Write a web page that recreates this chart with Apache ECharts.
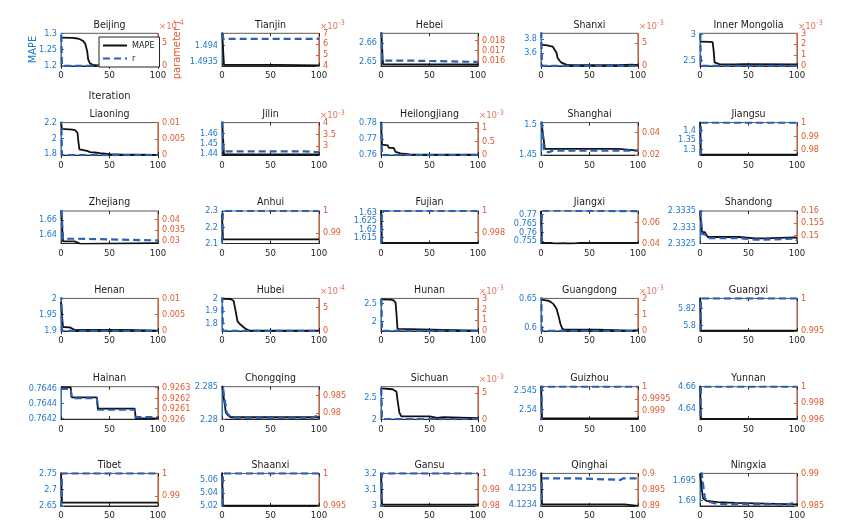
<!DOCTYPE html>
<html>
<head>
<meta charset="utf-8">
<script src="https://cdn.jsdelivr.net/npm/echarts@6/dist/echarts.min.js"></script>
<style>
  html, body { margin: 0; padding: 0; background: #fff; }
  #chart { width: 866px; height: 530px; }
</style>
</head>
<body>
<div id="chart"></div>
<script>
// provinces in subplot order (row by row)
const provinces = ['Beijing', 'Tianjin', 'Hebei', 'Shanxi', 'Inner Mongolia',
    'Liaoning', 'Jilin', 'Heilongjiang', 'Shanghai', 'Jiangsu',
    'Zhejiang', 'Anhui', 'Fujian', 'Jiangxi', 'Shandong',
    'Henan', 'Hubei', 'Hunan', 'Guangdong', 'Guangxi',
    'Hainan', 'Chongqing', 'Sichuan', 'Guizhou', 'Yunnan',
    'Tibet', 'Shaanxi', 'Gansu', 'Qinghai', 'Ningxia'];

const iterTicks = [0, 50, 100];

// left axis (MAPE) range and tick labels
const leftRange = [[1.2, 1.3], [1.49337, 1.49437], [2.6477, 2.6653], [3.414, 3.879], [2.394, 3.019],
    [1.787, 2.2], [1.439, 1.4707], [0.76, 0.78], [1.45, 1.504], [1.27, 1.44],
    [1.628, 1.672], [2.1, 2.3], [1.6115, 1.631], [0.7536, 0.772], [2.3325, 2.3335],
    [1.9, 2.0], [1.739, 2.0], [1.745, 2.636], [0.5935, 0.65], [5.7938, 5.8315],
    [0.76419, 0.76462], [2.28, 2.285], [2.0, 2.76], [2.5375, 2.5459], [4.6305, 4.66],
    [2.65, 2.75], [5.02, 5.07], [3.0, 3.2], [4.12339, 4.1236], [1.6885, 1.697]];
const leftTicks = [[1.2, 1.25, 1.3], [1.4935, 1.494], [2.65, 2.66], [3.6, 3.8], [2.5, 3],
    [1.8, 2, 2.2], [1.44, 1.45, 1.46], [0.76, 0.77, 0.78], [1.45, 1.5], [1.3, 1.35, 1.4],
    [1.64, 1.66], [2.1, 2.2, 2.3], [1.615, 1.62, 1.625, 1.63], [0.755, 0.76, 0.765, 0.77], [2.3325, 2.333, 2.3335],
    [1.9, 1.95, 2], [1.8, 1.9, 2], [2, 2.5], [0.6, 0.65], [5.8, 5.82],
    [0.7642, 0.7644, 0.7646], [2.28, 2.285], [2, 2.5], [2.54, 2.545], [4.64, 4.66],
    [2.65, 2.7, 2.75], [5.02, 5.04, 5.06], [3, 3.1, 3.2], [4.1234, 4.1235, 4.1236], [1.69, 1.695]];

// right axis (parameter r) range, tick labels and x10^n exponent
const rightRange = [[0, 7e-4], [4e-3, 7e-3], [0.01552, 0.0187], [0, 7.1e-3], [0, 3e-3],
    [0, 0.01], [2.62e-3, 4e-3], [0, 1.2e-3], [0.02, 0.049], [0.9763, 1],
    [0.0285, 0.0442], [0.9853, 1], [0.997, 1], [0.04, 0.0708], [0.1466, 0.16],
    [0, 0.01], [0, 7e-4], [0, 3e-3], [0, 2e-3], [0.995, 1],
    [0.926, 0.92631], [0.9782, 0.9875], [0, 6.2e-3], [0.99867, 1], [0.996, 1],
    [0.9857, 1], [0.995, 1], [0.98, 1], [0.89, 0.9], [0.985, 0.99]];
const rightTicks = [[0, 5e-4], [4e-3, 5e-3, 6e-3, 7e-3], [0.016, 0.017, 0.018], [0, 5e-3], [0, 1e-3, 2e-3, 3e-3],
    [0, 0.005, 0.01], [3e-3, 3.5e-3, 4e-3], [0, 0.5e-3, 1e-3], [0.02, 0.04], [0.98, 0.99, 1],
    [0.03, 0.035, 0.04], [0.99, 1], [0.998, 1], [0.04, 0.06], [0.15, 0.155, 0.16],
    [0, 0.005, 0.01], [0, 5e-4], [0, 1e-3, 2e-3, 3e-3], [0, 1e-3, 2e-3], [0.995, 1],
    [0.926, 0.9261, 0.9262, 0.9263], [0.98, 0.985], [0, 5e-3], [0.999, 0.9995, 1], [0.996, 0.998, 1],
    [0.99, 1], [0.995, 1], [0.98, 0.99, 1], [0.89, 0.895, 0.9], [0.985, 0.99]];
const rightExp = [-4, -3, 0, -3, -3,
    0, -3, -3, 0, 0,
    0, 0, 0, 0, 0,
    0, -4, -3, -3, 0,
    0, 0, -3, 0, 0,
    0, 0, 0, 0, 0];

// MAPE and r over iterations, [iteration, value]
const mapeBeijing = [[0, 1.287], [12, 1.286], [17, 1.284], [20, 1.281], [23, 1.276], [25, 1.268], [27, 1.245], [28, 1.22], [30, 1.207], [33, 1.203], [38, 1.2015], [100, 1.2015]];
const rBeijing = [[0, 9e-4], [1, 0], [100, 0]];
const mapeTianjin = [[0, 1.4945], [2, 1.4934], [58, 1.4934], [60, 1.49338], [100, 1.49338]];
const rTianjin = [[0, 0.009], [1, 0.00648], [100, 0.00648]];
const mapeHebei = [[0, 2.67], [2, 2.6486], [100, 2.6484]];
const rHebei = [[0, 0.02], [1, 0.01602], [33, 0.01602], [35, 0.0159], [100, 0.0159]];
const mapeShanxi = [[0, 3.716], [5, 3.71], [12, 3.69], [14, 3.68], [16, 3.6], [17, 3.53], [19, 3.49], [21, 3.46], [26, 3.43], [30, 3.425], [80, 3.425], [81, 3.432], [94, 3.432], [96, 3.425], [100, 3.425]];
const rShanxi = [[0, 0.01], [1, 0], [100, 0]];
const mapeInnerMongolia = [[0, 2.86], [10, 2.855], [13, 2.85], [14, 2.7], [15, 2.46], [17, 2.43], [20, 2.425], [35, 2.42], [36, 2.425], [45, 2.425], [46, 2.42], [100, 2.42]];
const rInnerMongolia = [[0, 0.004], [1, 0], [100, 0]];
const mapeLiaoning = [[0, 2.2], [1, 2.12], [3, 2.113], [12, 2.11], [15, 2.1], [17, 2.07], [18, 1.95], [19, 1.86], [20, 1.845], [27, 1.84], [30, 1.825], [35, 1.82], [40, 1.812], [50, 1.8], [60, 1.795], [100, 1.79]];
const rLiaoning = [[0, 0.015], [1, 0], [100, 0]];
const mapeJilin = [[0, 1.475], [2, 1.4398], [100, 1.4396]];
const rJilin = [[0, 0.005], [1, 0.00278], [85, 0.00278], [86, 0.00275], [100, 0.00275]];
const mapeHeilongjiang = [[0, 0.782], [1, 0.7665], [7, 0.766], [8, 0.7645], [13, 0.7645], [15, 0.762], [20, 0.761], [30, 0.7605], [100, 0.7603]];
const rHeilongjiang = [[0, 0.002], [1, 0], [100, 0]];
const mapeShanghai = [[0, 1.51], [4, 1.4602], [80, 1.4602], [82, 1.4575], [100, 1.4575]];
const rShanghai = [[0, 0.06], [3, 0.0235], [8, 0.0225], [12, 0.024], [100, 0.024]];
const mapeJiangsu = [[0, 1.46], [1, 1.272], [100, 1.272]];
const rJiangsu = [[0, 0.96], [1, 1], [100, 1]];
const mapeZhejiang = [[0, 1.68], [2, 1.631], [14, 1.6308], [17, 1.6292], [19, 1.6282], [20, 1.6275], [21, 1.6286], [100, 1.6286]];
const rZhejiang = [[0, 0.05], [2, 0.0308], [16, 0.0308], [18, 0.03], [100, 0.03]];
const mapeAnhui = [[0, 2.28], [1, 2.125], [100, 2.125]];
const rAnhui = [[0, 0.986], [1, 1], [100, 1]];
const mapeFujian = [[0, 1.632], [1, 1.6118], [100, 1.6118]];
const rFujian = [[0, 0.996], [1, 1], [100, 1]];
const mapeJiangxi = [[0, 0.772], [1, 0.7539], [10, 0.7539], [13, 0.7537], [20, 0.7536], [23, 0.7538], [26, 0.7536], [35, 0.7537], [40, 0.7539], [100, 0.7539]];
const rJiangxi = [[0, 0.03], [1, 0.0712], [5, 0.0712], [6, 0.0706], [100, 0.0706]];
const mapeShandong = [[0, 2.3335], [2, 2.33285], [5, 2.33285], [8, 2.3327], [40, 2.3327], [41, 2.33266], [57, 2.33266], [59, 2.3327], [62, 2.33266], [66, 2.33266], [68, 2.33269], [98, 2.33269], [100, 2.33265]];
const rShandong = [[0, 0.165], [2, 0.1505], [5, 0.1505], [8, 0.1488], [40, 0.1488], [42, 0.1482], [57, 0.1482], [59, 0.1487], [62, 0.1482], [66, 0.1482], [68, 0.1486], [98, 0.1486], [100, 0.1478]];
const mapeHenan = [[0, 1.99], [2, 1.912], [9, 1.911], [11, 1.909], [15, 1.902], [17, 1.9], [20, 1.903], [68, 1.903], [70, 1.9005], [100, 1.9005]];
const rHenan = [[0, 0.015], [1, 0], [100, 0]];
const mapeHubei = [[0, 1.997], [9, 1.995], [12, 1.98], [14, 1.9], [16, 1.815], [19, 1.79], [22, 1.77], [25, 1.753], [28, 1.743], [100, 1.741]];
const rHubei = [[0, 0.001], [1, 0], [100, 0]];
const mapeHunan = [[0, 2.61], [10, 2.6], [13, 2.58], [15, 2.52], [16, 2.2], [17, 1.8], [19, 1.765], [100, 1.755]];
const rHunan = [[0, 0.005], [1, 0], [100, 0]];
const mapeGuangdong = [[0, 0.648], [7, 0.646], [10, 0.644], [13, 0.64], [16, 0.632], [18, 0.62], [20, 0.606], [22, 0.597], [25, 0.5955], [58, 0.5955], [60, 0.5938], [93, 0.5938], [95, 0.595], [100, 0.595]];
const rGuangdong = [[0, 0.003], [1, 0], [100, 0]];
const mapeGuangxi = [[0, 5.84], [1, 5.7942], [100, 5.7942]];
const rGuangxi = [[0, 0.99], [1, 1], [100, 1]];
const mapeHainan = [[0, 0.76461], [10, 0.76461], [11, 0.76448], [37, 0.76448], [38, 0.76433], [76, 0.76433], [77, 0.7642], [100, 0.7642]];
const rHainan = [[0, 0.92629], [10, 0.92629], [11, 0.9262], [37, 0.9262], [38, 0.92609], [76, 0.92609], [77, 0.92602], [100, 0.92602]];
const mapeChongqing = [[0, 2.2855], [2, 2.2831], [4, 2.281], [6, 2.2806], [9, 2.2803], [100, 2.2803]];
const rChongqing = [[0, 0.99], [2, 0.985], [5, 0.98], [9, 0.9788], [15, 0.9786], [93, 0.9786], [96, 0.979], [100, 0.979]];
const mapeSichuan = [[0, 2.72], [12, 2.7], [16, 2.64], [17, 2.45], [19, 2.15], [21, 2.065], [50, 2.065], [52, 2.024], [58, 2.03], [60, 2.05], [64, 2.05], [66, 2.024], [100, 2.024]];
const rSichuan = [[0, 0.008], [1, 0], [100, 0]];
const mapeGuizhou = [[0, 2.547], [1, 2.5377], [100, 2.5377]];
const rGuizhou = [[0, 0.998], [1, 1], [100, 1]];
const mapeYunnan = [[0, 4.665], [1, 4.6308], [100, 4.6308]];
const rYunnan = [[0, 0.995], [1, 1], [100, 1]];
const mapeTibet = [[0, 2.76], [1, 2.66], [100, 2.66]];
const rTibet = [[0, 0.98], [1, 1], [100, 1]];
const mapeShaanxi = [[0, 5.075], [1, 5.0205], [100, 5.0205]];
const rShaanxi = [[0, 0.99], [1, 1], [100, 1]];
const mapeGansu = [[0, 3.22], [1, 3.008], [100, 3.008]];
const rGansu = [[0, 0.97], [1, 1], [100, 1]];
const mapeQinghai = [[0, 4.1237], [1, 4.1234], [86, 4.1234], [87, 4.12339], [100, 4.12339]];
const rQinghai = [[0, 0.885], [1, 0.8985], [35, 0.8985], [36, 0.898], [82, 0.898], [85, 0.8985], [100, 0.8985]];
const mapeNingxia = [[0, 1.697], [3, 1.6905], [7, 1.6898], [18, 1.6895], [20, 1.6893], [36, 1.6893], [38, 1.6889], [100, 1.6889]];
const rNingxia = [[0, 0.992], [5, 0.9862], [10, 0.9856], [18, 0.9853], [90, 0.9852], [95, 0.9854], [100, 0.9854]];

const mapeData = [mapeBeijing, mapeTianjin, mapeHebei, mapeShanxi, mapeInnerMongolia,
    mapeLiaoning, mapeJilin, mapeHeilongjiang, mapeShanghai, mapeJiangsu,
    mapeZhejiang, mapeAnhui, mapeFujian, mapeJiangxi, mapeShandong,
    mapeHenan, mapeHubei, mapeHunan, mapeGuangdong, mapeGuangxi,
    mapeHainan, mapeChongqing, mapeSichuan, mapeGuizhou, mapeYunnan,
    mapeTibet, mapeShaanxi, mapeGansu, mapeQinghai, mapeNingxia];
const rData = [rBeijing, rTianjin, rHebei, rShanxi, rInnerMongolia,
    rLiaoning, rJilin, rHeilongjiang, rShanghai, rJiangsu,
    rZhejiang, rAnhui, rFujian, rJiangxi, rShandong,
    rHenan, rHubei, rHunan, rGuangdong, rGuangxi,
    rHainan, rChongqing, rSichuan, rGuizhou, rYunnan,
    rTibet, rShaanxi, rGansu, rQinghai, rNingxia];

// layout of the 6 x 5 subplots
const colLeft = [61, 222, 381, 541, 700];
const rowTop = [33.3, 122.6, 211, 298.4, 386.7, 473.4];
const plotW = 97, plotH = 32.5;

const FONT = "'Liberation Sans Narrow', 'DejaVu Sans Condensed', 'Liberation Sans', Arial, sans-serif";
const BLUE = '#1f77c9';
const RED = '#de5a2e';
const DARK = '#262626';
const LINE_R = '#2b5fb4';

function fmt(v, e) {
    return String(Number((v / Math.pow(10, e)).toPrecision(8)));
}

const chart = echarts.init(document.getElementById('chart'));

const grids = [], xAxes = [], yAxes = [], series = [], titles = [];

// two y axes per side: the first draws line, ticks and every other label,
// the second (no line) draws the remaining labels so crowded ones are not dropped
function sideAxes(i, pos, range, ticks, color, formatter, name, nameGap) {
    const even = ticks.filter((t, k) => k % 2 === 0);
    const odd = ticks.filter((t, k) => k % 2 === 1);
    const label = list => ({
        show: list.length > 0, customValues: list, fontSize: 9, color: color, margin: 4, fontFamily: FONT,
        showMinLabel: true, showMaxLabel: true, hideOverlap: false, formatter: formatter
    });
    return [{
        gridIndex: i, type: 'value', position: pos, min: range[0], max: range[1],
        axisLine: { show: true, lineStyle: { color: color, width: 1 } },
        axisTick: { show: true, inside: true, length: 3, customValues: ticks, lineStyle: { color: color } },
        axisLabel: label(even),
        splitLine: { show: false },
        name: name, nameLocation: 'middle', nameGap: nameGap, nameRotate: 90,
        nameTextStyle: { fontSize: 11, color: color, fontFamily: FONT }
    }, {
        gridIndex: i, type: 'value', position: pos, min: range[0], max: range[1],
        axisLine: { show: false }, axisTick: { show: false },
        axisLabel: label(odd),
        splitLine: { show: false }
    }];
}

provinces.forEach((name, i) => {
    const c = i % 5, r = Math.floor(i / 5);
    const left = colLeft[c], top = rowTop[r];

    grids.push({
        left: left, top: top, width: plotW, height: plotH,
        show: true, borderColor: '#5a5a5a', borderWidth: 1, backgroundColor: 'transparent'
    });

    // bottom axis with labels
    xAxes.push({
        gridIndex: i, type: 'value', min: 0, max: 100, position: 'bottom',
        axisLine: { show: true, lineStyle: { color: DARK, width: 1 } },
        axisTick: { show: true, inside: true, length: 3, customValues: iterTicks, lineStyle: { color: DARK } },
        axisLabel: { customValues: iterTicks, fontSize: 9.5, color: DARK, margin: 5, fontFamily: FONT,
            showMinLabel: true, showMaxLabel: true },
        splitLine: { show: false },
        name: i === 0 ? 'Iteration' : '',
        nameLocation: 'middle', nameGap: 25,
        nameTextStyle: { fontSize: 11, color: DARK, fontFamily: FONT }
    });
    // top box edge ticks
    xAxes.push({
        gridIndex: i, type: 'value', min: 0, max: 100, position: 'top',
        axisLine: { show: false },
        axisTick: { show: true, inside: true, length: 3, customValues: iterTicks, lineStyle: { color: DARK } },
        axisLabel: { show: false },
        splitLine: { show: false }
    });

    yAxes.push(...sideAxes(i, 'left', leftRange[i], leftTicks[i], BLUE,
        v => fmt(v, 0), i === 0 ? 'MAPE' : '', 22));
    yAxes.push(...sideAxes(i, 'right', rightRange[i], rightTicks[i], RED,
        v => fmt(v, rightExp[i]), i === 0 ? 'parameter r' : '', 14));

    series.push({
        name: 'MAPE', type: 'line', xAxisIndex: 2 * i, yAxisIndex: 4 * i,
        data: mapeData[i], symbol: 'none', z: 3,
        lineStyle: { color: '#111', width: 1.8 }, itemStyle: { color: '#111' }
    });
    series.push({
        name: 'r', type: 'line', xAxisIndex: 2 * i, yAxisIndex: 4 * i + 2,
        data: rData[i], symbol: 'none', z: 4,
        lineStyle: { color: LINE_R, width: 2.2, type: [7, 4] }, itemStyle: { color: LINE_R }
    });

    titles.push({
        text: name, left: left + plotW / 2, top: top - 14, textAlign: 'center', padding: 0,
        textStyle: { fontSize: 10.5, fontWeight: 'normal', color: '#1a1a1a', fontFamily: FONT }
    });
    if (rightExp[i] !== 0) {
        titles.push({
            text: '×10{s|' + rightExp[i] + '}', left: left + plotW + 1, top: top - 14, padding: 0,
            textStyle: {
                fontSize: 9.5, fontWeight: 'normal', color: '#e07a62', fontFamily: FONT,
                rich: { s: { fontSize: 7.5, color: '#e07a62', fontFamily: FONT, padding: [0, 0, 6, 0] } }
            }
        });
    }
});

const option = {
    animation: false,
    backgroundColor: '#fff',
    title: titles,
    legend: {
        data: ['MAPE', 'r'],
        left: 99, top: 37, orient: 'vertical',
        itemWidth: 24, itemHeight: 8, itemGap: 4,
        padding: [4, 5, 4, 3],
        borderColor: '#222', borderWidth: 1, backgroundColor: '#fff',
        itemStyle: { opacity: 0 },
        textStyle: { fontSize: 9, color: '#222', fontFamily: FONT },
        z: 10
    },
    grid: grids,
    xAxis: xAxes,
    yAxis: yAxes,
    series: series
};

chart.setOption(option);
</script>
</body>
</html>
